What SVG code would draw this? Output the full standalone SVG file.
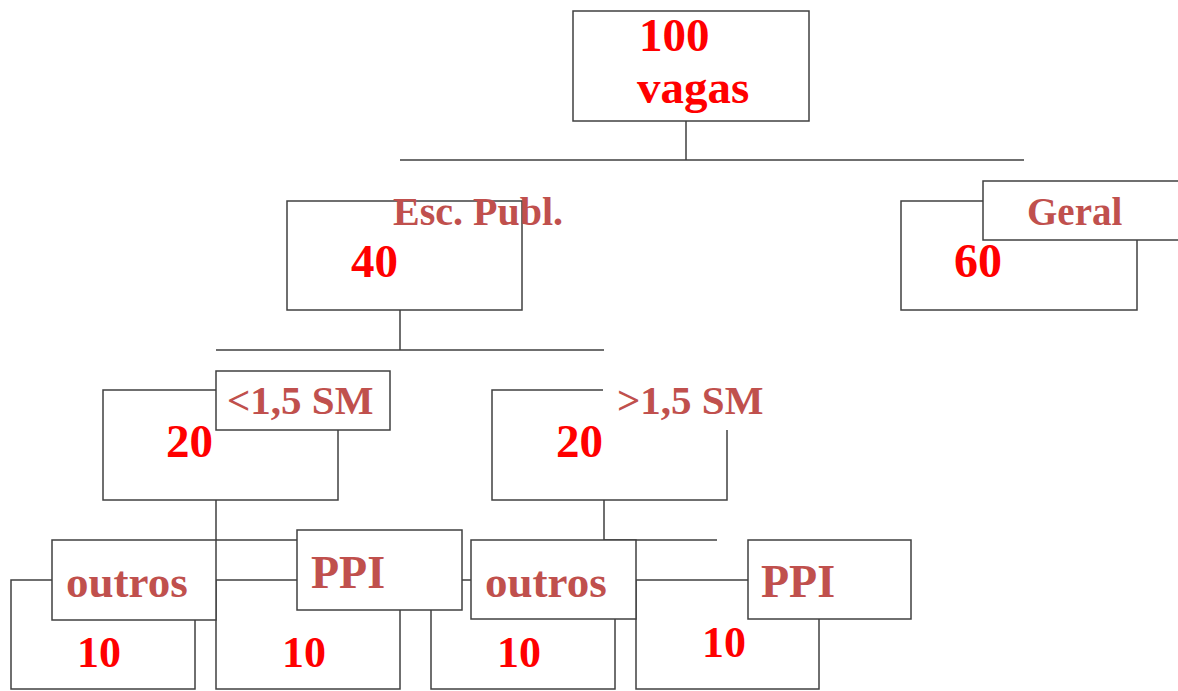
<svg xmlns="http://www.w3.org/2000/svg" width="1178" height="691" viewBox="0 0 1178 691">
<style>
.box{fill:#fff;stroke:#404040;stroke-width:1.5}
.conn{fill:none;stroke:#404040;stroke-width:1.5}
.lbl{font-family:"Liberation Serif","Times New Roman",serif;font-weight:bold;fill:#C0504D}
.num{font-family:"Liberation Serif","Times New Roman",serif;font-weight:bold;fill:#FF0000}
</style>
<rect width="1178" height="691" fill="#fff"/>
<g id="connectors">
<path class="conn" d="M686,121V160M400,160H1024M400,310V350M216,350H604M216,500V540H297M604,500V540H717"/>
</g>
<g id="n-100">
<rect class="box" x="573" y="11" width="236" height="110"/>
<text class="num" x="639" y="51" font-size="47">100</text>
<text class="num" x="637" y="103" font-size="47">vagas</text>
</g>
<g id="n-esc">
<rect class="box" x="287" y="201" width="235" height="109"/>
<text class="lbl" x="393" y="225" font-size="40">Esc. Publ.</text>
<text class="num" x="351" y="277" font-size="47">40</text>
</g>
<g id="n-geral">
<rect class="box" x="901" y="201" width="236" height="109"/>
<rect class="box" x="983" y="181" width="200" height="59"/>
<text class="lbl" x="1027" y="225" font-size="39">Geral</text>
<text class="num" x="954" y="277" font-size="48">60</text>
</g>
<g id="n-menor">
<rect class="box" x="103" y="390" width="235" height="110"/>
<rect class="box" x="216" y="371" width="174" height="59"/>
<text class="lbl" x="227" y="414" font-size="41">&lt;1,5 SM</text>
<text class="num" x="166" y="457" font-size="47">20</text>
</g>
<g id="n-maior">
<rect class="box" x="492" y="390" width="235" height="110"/>
<rect x="603" y="368" width="180" height="62" fill="#fff"/>
<text class="lbl" x="617" y="414" font-size="41">&gt;1,5 SM</text>
<text class="num" x="556" y="457" font-size="47">20</text>
</g>
<g id="n-bottom-boxes">
<rect class="box" x="11" y="580" width="184" height="109"/>
<rect class="box" x="216" y="580" width="184" height="109"/>
<rect class="box" x="431" y="580" width="184" height="109"/>
<rect class="box" x="636" y="580" width="183" height="109"/>
</g>
<g id="n-outros1">
<rect class="box" x="52" y="540" width="164" height="80"/>
<text class="lbl" x="66" y="597" font-size="45">outros</text>
<text class="num" x="77" y="667" font-size="44">10</text>
</g>
<g id="n-ppi1">
<rect class="box" x="297" y="530" width="165" height="80"/>
<text class="lbl" x="311" y="588" font-size="46">PPI</text>
<text class="num" x="282" y="667" font-size="44">10</text>
</g>
<g id="n-outros2">
<rect class="box" x="471" y="540" width="165" height="79"/>
<text class="lbl" x="485" y="597" font-size="45">outros</text>
<text class="num" x="497" y="667" font-size="44">10</text>
</g>
<g id="n-ppi2">
<rect class="box" x="748" y="540" width="163" height="79"/>
<text class="lbl" x="761" y="597" font-size="46">PPI</text>
<text class="num" x="702" y="657" font-size="44">10</text>
</g>
</svg>
